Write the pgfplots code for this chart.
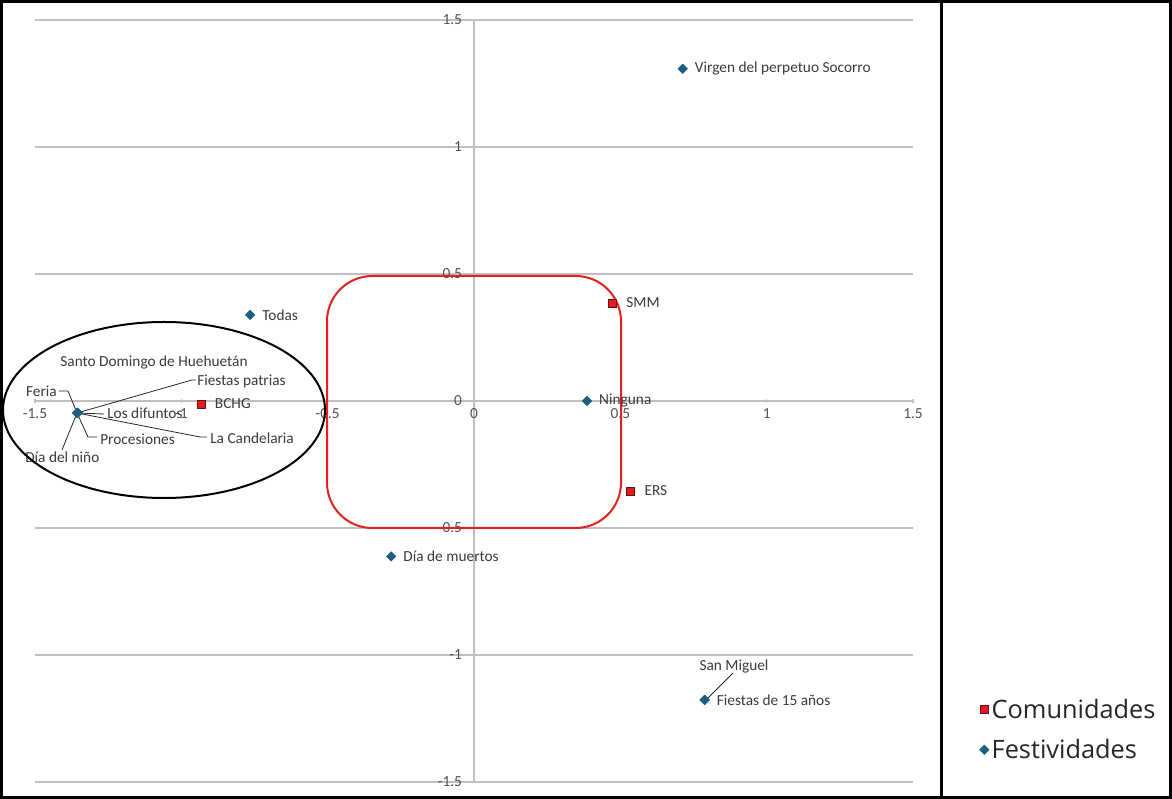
\documentclass[border=0pt]{standalone}
\usepackage{fontspec}
\setmainfont{Carlito}
\newfontfamily\legendfont{Open Sans}
\usepackage{pgfplots}
\usepackage{pgfplotstable}
\pgfplotsset{compat=1.18}
\definecolor{festcol}{HTML}{1B5E7E}
\definecolor{comcol}{HTML}{E01B22}
\definecolor{comedge}{HTML}{6A1014}
\definecolor{boxred}{HTML}{E3201C}
\definecolor{gridgray}{HTML}{BFBFBF}
\definecolor{txt}{HTML}{3A3A3A}
\definecolor{ticktxt}{HTML}{505050}
\newcommand{\lbl}{\fontsize{11.5}{13}\selectfont}
% pixel position of the reference picture -> point relative to the axis origin
\newcommand{\px}[2]{([shift={({(#1-474)*0.75pt},{(401-#2)*0.75pt})}]axis cs:0,0)}

\pgfplotstableread[col sep=comma]{
x,y,label
-0.932,-0.012,BCHG
0.474,0.386,SMM
0.536,-0.354,ERS
}\comtable

\pgfplotstableread[col sep=comma]{
x,y,label
0.713,1.308,Virgen del perpetuo Socorro
-0.765,0.339,Todas
0.386,0.000,Ninguna
-0.283,-0.612,Día de muertos
0.788,-1.177,Fiestas de 15 años
}\festtable

\pgfplotstableread[col sep=comma]{
x,y,label
-1.355,-0.047,Santo Domingo de Huehuetán
-1.355,-0.047,Fiestas patrias
-1.355,-0.047,Feria
-1.355,-0.047,Los difuntos
-1.355,-0.047,Procesiones
-1.355,-0.047,La Candelaria
-1.355,-0.047,Día del niño
0.788,-1.177,San Miguel
}\festcluster

\begin{document}
\begin{tikzpicture}
\begin{axis}[
  scale only axis,
  width=658.5pt, height=571.5pt,
  xmin=-1.5, xmax=1.5, ymin=-1.5, ymax=1.5,
  axis lines=middle,
  axis line style={-, draw=gridgray, line width=0.8pt},
  xtick={-1.5,-1,-0.5,0,0.5,1,1.5},
  ytick={-1.5,-1,-0.5,0,0.5,1,1.5},
  hide obscured x ticks=false,
  hide obscured y ticks=false,
  ymajorgrids,
  grid style={draw=gridgray, line width=0.8pt},
  major tick length=3pt,
  tick style={draw=gridgray, line width=0.8pt},
  /pgf/number format/assume math mode=true,
  ticklabel style={font=\lbl, text=ticktxt},
  yticklabel style={anchor=east, xshift=-4pt},
  xticklabel style={anchor=north, yshift=-1pt},
  clip=false,
  legend style={at={(1.071,0.116)}, anchor=north west, draw=none, fill=none,
    font=\legendfont\fontsize{19}{23}\selectfont, text=black!85, row sep=10pt,
    /tikz/every even column/.append style={column sep=0pt}},
  legend cell align=left,
  legend image code/.code={\draw[mark repeat=2,mark phase=2,#1] plot coordinates {(0cm,0cm) (0.16cm,0cm) (0.32cm,0cm)};},
]
\addplot[only marks, mark=square*, mark size=3pt,
  mark options={fill=comcol, draw=comedge, line width=0.6pt},
  nodes near coords, point meta=explicit symbolic,
  every node near coord/.style={anchor=west, font=\lbl, text=txt, inner sep=1pt, xshift=9pt}]
  table[x=x, y=y, meta=label] {\comtable};
\addlegendentry{Comunidades}
\addplot[only marks, mark=square*, mark size=2.5pt,
  mark options={rotate=45, fill=festcol, draw=festcol},
  nodes near coords, point meta=explicit symbolic,
  every node near coord/.style={anchor=west, font=\lbl, text=txt, inner sep=1pt, xshift=8pt}]
  table[x=x, y=y, meta=label] {\festtable};
\addlegendentry{Festividades}
\addplot[only marks, mark=square*, mark size=2.5pt, forget plot,
  mark options={rotate=45, fill=festcol, draw=festcol}]
  table[x=x, y=y] {\festcluster};

% labels of the overlapping points, with leader lines
\begin{scope}[font=\lbl, text=txt]
\node[anchor=center, inner sep=0pt] at \px{154}{363} {Santo Domingo de Huehuetán};
\node[anchor=west, inner sep=0pt] at \px{197}{381} {Fiestas patrias};
\node[anchor=east, inner sep=0pt] at \px{57}{391} {Feria};
\node[anchor=west, inner sep=0pt] at \px{107}{413} {Los difuntos};
\node[anchor=west, inner sep=0pt] at \px{100}{439} {Procesiones};
\node[anchor=west, inner sep=0pt] at \px{210}{438} {La Candelaria};
\node[anchor=west, inner sep=0pt] at \px{25}{457} {Día del niño};
\node[anchor=center, inner sep=0pt] at \px{734}{666} {San Miguel};
\end{scope}
\begin{scope}[draw=black!85, line width=0.6pt]
\draw \px{77}{413} -- \px{192}{380} -- \px{196}{380};
\draw \px{59}{391} -- \px{68}{391} -- \px{77}{413};
\draw \px{77}{413} -- \px{104}{414};
\draw \px{77}{413} -- \px{88}{437} -- \px{97}{437};
\draw \px{77}{413} -- \px{200}{437} -- \px{207}{437};
\draw \px{77}{413} -- \px{62}{450};
\draw \px{733}{673} -- \px{708}{698};
\end{scope}

% red rounded rectangle and black ellipse
\draw[boxred, line width=1.5pt, rounded corners=34pt] \px{327}{276} rectangle \px{621}{528};
\draw[black, line width=1.5pt] \px{164}{410} ellipse [x radius=120.75pt, y radius=66pt];

% outer frame and divider
\draw[black, line width=2.25pt] \px{1.5}{1.5} rectangle \px{1170.5}{797.5};
\draw[black, line width=2.25pt] \px{941.5}{1.5} -- \px{941.5}{797.5};
\end{axis}
\end{tikzpicture}
\end{document}
